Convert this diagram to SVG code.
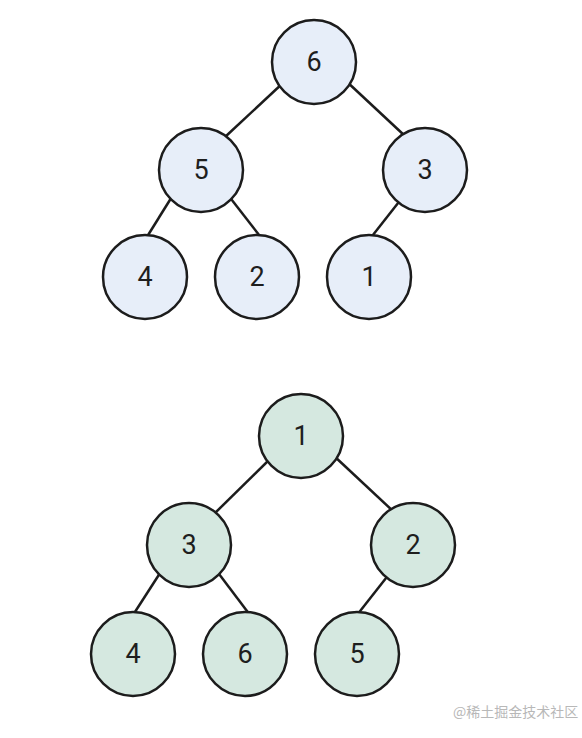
<svg xmlns="http://www.w3.org/2000/svg" width="582" height="738" viewBox="0 0 582 738">
<style>
.n circle{stroke:#1c1c1c;stroke-width:2.5}
.a circle{fill:#e7eef9}
.b circle{fill:#d5e8e0}
.n text{font-family:Roboto,"Liberation Sans",sans-serif;font-size:27px;fill:#1e1e1e;text-anchor:middle;dominant-baseline:central}
.e line{stroke:#1c1c1c;stroke-width:2.5}
</style>
<rect width="582" height="738" fill="#ffffff"/>
<g id="edges" class="e">
<line x1="284" y1="82" x2="225" y2="137"/>
<line x1="345" y1="80" x2="405" y2="136"/>
<line x1="173" y1="195" x2="145" y2="240"/>
<line x1="228" y1="195" x2="263" y2="240"/>
<line x1="402" y1="198" x2="369" y2="240"/>
<line x1="272" y1="457" x2="214" y2="514"/>
<line x1="333" y1="455" x2="394" y2="512"/>
<line x1="162" y1="570" x2="133" y2="615"/>
<line x1="216" y1="570" x2="250" y2="615"/>
<line x1="390" y1="573" x2="357" y2="615"/>
</g>
<g id="t6" class="n a"><circle cx="314" cy="62" r="42"/><text x="314" y="62">6</text></g>
<g id="t5" class="n a"><circle cx="201" cy="170" r="42"/><text x="201" y="170">5</text></g>
<g id="t3" class="n a"><circle cx="425" cy="170" r="42"/><text x="425" y="170">3</text></g>
<g id="t4" class="n a"><circle cx="145" cy="277" r="42"/><text x="145" y="277">4</text></g>
<g id="t2" class="n a"><circle cx="257" cy="277" r="42"/><text x="257" y="277">2</text></g>
<g id="t1" class="n a"><circle cx="369" cy="277" r="42"/><text x="369" y="277">1</text></g>
<g id="b1" class="n b"><circle cx="301" cy="436" r="42"/><text x="301" y="436">1</text></g>
<g id="b3" class="n b"><circle cx="189" cy="545" r="42"/><text x="189" y="545">3</text></g>
<g id="b2" class="n b"><circle cx="413" cy="545" r="42"/><text x="413" y="545">2</text></g>
<g id="b4" class="n b"><circle cx="133" cy="654" r="42"/><text x="133" y="654">4</text></g>
<g id="b6" class="n b"><circle cx="245" cy="654" r="42"/><text x="245" y="654">6</text></g>
<g id="b5" class="n b"><circle cx="357" cy="654" r="42"/><text x="357" y="654">5</text></g>
<text x="453" y="717" font-family="'Noto Sans CJK SC',sans-serif" font-size="14" fill="#b8b8b8">@稀土掘金技术社区</text>
</svg>
